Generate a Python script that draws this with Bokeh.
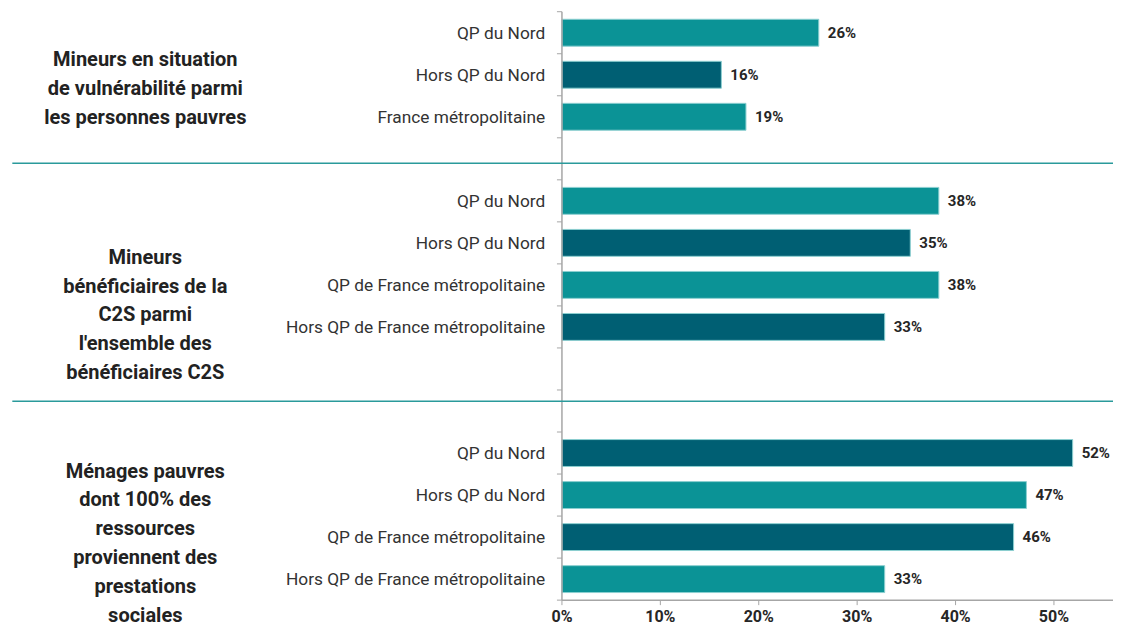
from bokeh.plotting import figure
from bokeh.models import Range1d, ColumnDataSource
from bokeh.core.properties import value
from bokeh.embed import file_html
from bokeh.resources import INLINE

# ---- data ----
group_titles = [
    "Mineurs en situation\nde vulnérabilité parmi\nles personnes pauvres",
    "Mineurs\nbénéficiaires de la\nC2S parmi\nl'ensemble des\nbénéficiaires C2S",
    "Ménages pauvres\ndont 100% des\nressources\nproviennent des\nprestations\nsociales",
]
g1_labels = ["QP du Nord", "Hors QP du Nord", "France métropolitaine"]
g1_values = [26.1, 16.2, 18.7]
g2_labels = ["QP du Nord", "Hors QP du Nord", "QP de France métropolitaine",
             "Hors QP de France métropolitaine"]
g2_values = [38.3, 35.4, 38.3, 32.8]
g3_labels = ["QP du Nord", "Hors QP du Nord", "QP de France métropolitaine",
             "Hors QP de France métropolitaine"]
g3_values = [51.9, 47.2, 45.9, 32.8]
x_ticks = [0, 10, 20, 30, 40, 50]
x_tick_labels = ["0%", "10%", "20%", "30%", "40%", "50%"]

LIGHT = "#0b9396"
DARK = "#005f73"
AXIS = "#a6a6a6"
SEP = "#2a9a9b"
FONT = "Roboto"

# ---- layout (category slots, Excel style, empty slots between groups) ----
W, H = 1113, 628
n_slots = 14
g1_slots = [0, 1, 2]
g2_slots = [4, 5, 6, 7]
g3_slots = [10, 11, 12, 13]
g1_colors = [LIGHT, DARK, LIGHT]
g2_colors = [LIGHT, DARK, LIGHT, DARK]
g3_colors = [DARK, LIGHT, DARK, LIGHT]

SX, SY = 0.985, 0.975          # fit reference layout into the figure
X0 = 570 * SX                  # pixel of 0 %
K = 9.84                       # pixels per percent
TOP = 11.5 * SY                # pixel of first slot boundary
SLOT = (615 - 11.5) * SY / n_slots


def fx(px):   # reference pixel x -> data x
    return (px * SX - X0) / K


def fy(py):   # reference pixel y -> data y (slot units)
    return (py * SY - TOP) / SLOT


x_start, x_end = -X0 / K, (W - X0) / K
y_top, y_bot = -TOP / SLOT, (H - TOP) / SLOT

ys, vals, labs, cols = [], [], [], []
for slots, v, l, c in [(g1_slots, g1_values, g1_labels, g1_colors),
                       (g2_slots, g2_values, g2_labels, g2_colors),
                       (g3_slots, g3_values, g3_labels, g3_colors)]:
    for s, vv, ll, cc in zip(slots, v, l, c):
        ys.append(s + 0.5)
        vals.append(vv)
        labs.append(ll)
        cols.append(cc)

src = ColumnDataSource(dict(
    y=ys, v=vals, lab=labs, col=cols,
    vt=[f"{round(v)}%" for v in vals],
    vx=[v + 9 / K for v in vals],
))

p = figure(width=W, height=H, output_backend="svg", toolbar_location=None,
           x_range=Range1d(x_start, x_end), y_range=Range1d(y_bot, y_top),
           min_border=0, x_axis_location=None, y_axis_location=None)
p.outline_line_color = None
p.xgrid.grid_line_color = None
p.ygrid.grid_line_color = None

# bars
p.hbar(y="y", right="v", left=0, height=0.64, fill_color="col",
       line_color="#8ccfd0", line_width=1, source=src)

# value labels
p.text(x="vx", y="y", text="vt", source=src, text_font=value(FONT),
       text_font_style="bold", text_font_size="15px", text_color="#262626",
       text_align="left", text_baseline="middle")

# category labels
p.text(x=[fx(553)] * len(ys), y=ys, text=labs, text_font=value(FONT),
       text_font_size="17.3px", text_color="#333333",
       text_align="right", text_baseline="middle")

# category axis (sits in the middle of the figure): line + boundary ticks
p.segment(x0=[0], y0=[0], x1=[0], y1=[n_slots], line_color=AXIS, line_width=1.5)
bounds = list(range(n_slots + 1))
p.segment(x0=[-5 / K] * len(bounds), y0=bounds, x1=[0] * len(bounds),
          y1=bounds, line_color=AXIS, line_width=1)

# value axis: line, ticks, labels
p.segment(x0=[0], y0=[n_slots], x1=[x_end], y1=[n_slots], line_color=AXIS, line_width=1.5)
p.segment(x0=x_ticks, y0=[n_slots] * len(x_ticks), x1=x_ticks,
          y1=[n_slots + 5 / SLOT] * len(x_ticks), line_color=AXIS, line_width=1)
p.text(x=x_ticks, y=[n_slots + 7 / SLOT] * len(x_ticks), text=x_tick_labels,
       text_font=value(FONT), text_font_style="bold", text_font_size="16px",
       text_color="#262626", text_align="center", text_baseline="top",
       text_line_height=1.0)

# separator lines between groups
sep_y = [fy(167), fy(411)]
p.segment(x0=[fx(12)] * 2, y0=sep_y, x1=[x_end] * 2, y1=sep_y,
          line_color=SEP, line_width=1.5)

# group titles
p.text(x=[fx(147)] * 3, y=[fy(89.5), fy(322), fy(556)], text=group_titles,
       text_font=value(FONT), text_font_style="bold", text_font_size="20px",
       text_color="#222222", text_align="center", text_baseline="middle",
       text_line_height=1.2)

open("out.html", "w").write(file_html(p, INLINE))
